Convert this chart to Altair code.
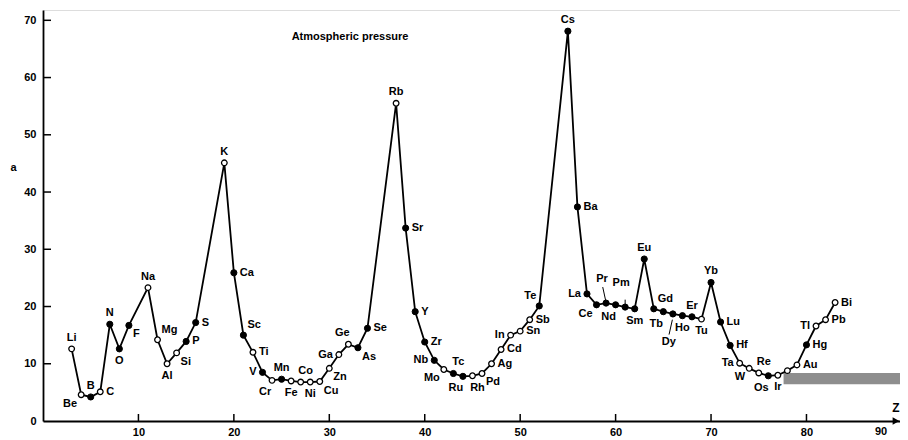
import altair as alt
import pandas as pd

# ---------------- data ----------------
symbols = ["Li", "Be", "B", "C", "N", "O", "F", "Na", "Mg", "Al", "Si", "P", "S",
           "K", "Ca", "Sc", "Ti", "V", "Cr", "Mn", "Fe", "Co", "Ni", "Cu", "Zn",
           "Ga", "Ge", "As", "Se", "Rb", "Sr", "Y", "Zr", "Nb", "Mo", "Tc", "Ru",
           "Rh", "Pd", "Ag", "Cd", "In", "Sn", "Sb", "Te", "Cs", "Ba", "La", "Ce",
           "Pr", "Nd", "Pm", "Sm", "Eu", "Gd", "Tb", "Dy", "Ho", "Er", "Tu", "Yb",
           "Lu", "Hf", "Ta", "W", "Re", "Os", "Ir", "", "Au", "Hg", "Tl", "Pb", "Bi"]
z_numbers = [3, 4, 5, 6, 7, 8, 9, 11, 12, 13, 14, 15, 16,
             19, 20, 21, 22, 23, 24, 25, 26, 27, 28, 29, 30,
             31, 32, 33, 34, 37, 38, 39, 40, 41, 42, 43, 44,
             45, 46, 47, 48, 49, 50, 51, 52, 55, 56, 57, 58,
             59, 60, 61, 62, 63, 64, 65, 66, 67, 68, 69, 70,
             71, 72, 73, 74, 75, 76, 77, 78, 79, 80, 81, 82, 83]
a_values = [12.6, 4.6, 4.2, 5.1, 16.9, 12.6, 16.7, 23.3, 14.2, 10.0, 11.9, 13.9, 17.2,
            45.1, 25.9, 15.0, 12.0, 8.5, 7.1, 7.3, 7.0, 6.8, 6.8, 6.9, 9.2,
            11.6, 13.4, 12.8, 16.2, 55.5, 33.7, 19.1, 13.8, 10.6, 9.0, 8.3, 7.8,
            7.9, 8.3, 10.0, 12.5, 15.0, 15.7, 17.7, 20.1, 68.1, 37.4, 22.2, 20.3,
            20.6, 20.3, 19.9, 19.6, 28.3, 19.6, 19.1, 18.7, 18.4, 18.2, 17.8, 24.2,
            17.3, 13.2, 10.1, 9.2, 8.4, 7.9, 8.0, 8.8, 9.8, 13.3, 16.6, 17.7, 20.7]
open_symbols = ["Li", "Be", "C", "Na", "Mg", "Al", "Si", "K", "Ti", "Cr", "Fe", "Co",
                "Ni", "Cu", "Zn", "Ga", "Ge", "Rb", "Mo", "Rh", "Pd", "Ag", "Cd", "In",
                "Sn", "Sb", "Tu", "Ta", "W", "Re", "Ir", "", "Au", "Tl", "Pb", "Bi"]
# where each element label sits relative to its marker
label_place = {
    "Li": "N", "Be": "SW", "B": "N", "C": "E", "N": "N", "O": "S", "F": "SE",
    "Na": "N", "Mg": "NE", "Al": "S", "Si": "SE", "P": "E", "S": "E", "K": "N",
    "Ca": "E", "Sc": "NE", "Ti": "E", "V": "W", "Cr": "SL", "Mn": "N", "Fe": "S",
    "Co": "NR", "Ni": "S", "Cu": "SE", "Zn": "SE", "Ga": "W", "Ge": "NL", "As": "SE",
    "Se": "E", "Rb": "N", "Sr": "E", "Y": "E", "Zr": "E", "Nb": "W", "Mo": "SW",
    "Tc": "NR", "Ru": "SL", "Rh": "SR", "Pd": "SE", "Ag": "E", "Cd": "E", "In": "W",
    "Sn": "E", "Sb": "E", "Te": "NW", "Cs": "N", "Ba": "E", "La": "W", "Ce": "SW",
    "Pr": "N2", "Nd": "SL", "Pm": "N2", "Sm": "S", "Eu": "N", "Gd": "NE", "Tb": "SL",
    "Dy": "S2", "Ho": "S", "Er": "N", "Tu": "S", "Yb": "N", "Lu": "E", "Hf": "E",
    "Ta": "W", "W": "SW", "Re": "NR", "Os": "SL", "Ir": "S", "": "N", "Au": "E",
    "Hg": "E", "Tl": "W", "Pb": "E", "Bi": "E",
}
x_ticks = [10, 20, 30, 40, 50, 60, 70, 80]
x_last_label = "90"
y_ticks = [0, 10, 20, 30, 40, 50, 60, 70]
leader_syms = ["Pr", "Pm", "Dy"]
scan_band = {"z1": [77.6], "z2": [89.8], "a1": [6.4], "a2": [8.4]}

# ---------------- layout / style ----------------
W, H = 857, 411
FONT = "Liberation Sans"
place_style = {
    "N": (0, -11, "center"), "S": (0, 12, "center"),
    "NL": (-6, -11, "center"), "NR": (5, -11, "center"),
    "SL": (-7, 12, "center"), "SR": (5, 12, "center"),
    "E": (6, 0, "left"), "W": (-6, 0, "right"),
    "NE": (4, -10, "left"), "NW": (-3, -10, "right"),
    "SE": (4, 9, "left"), "SW": (-4, 9, "right"),
    "N2": (-4, -24, "center"), "S2": (-4, 28, "center"),
}

df = pd.DataFrame({"Z": z_numbers, "a": a_values, "sym": symbols})
df["kind"] = ["open" if s in open_symbols else "filled" for s in symbols]
df["place"] = [label_place[s] for s in symbols]

xs = alt.Scale(domain=[0, 89.8], nice=False, zero=False)
ys = alt.Scale(domain=[0, 71.8], nice=False, zero=False)
x_axis = alt.Axis(values=x_ticks, title=None, ticks=False, grid=False,
                  domainColor="black", domainWidth=1.8, labelColor="black",
                  labelFont=FONT, labelFontWeight="bold", labelFontSize=11,
                  labelPadding=5, labelFlush=False, labelOverlap=False)
y_axis = alt.Axis(values=y_ticks, title="a", titleAngle=0, titleX=-30, titleY=157,
                  titleAlign="center", titleBaseline="middle",
                  titleFont=FONT, titleFontWeight="bold", titleFontSize=11,
                  titleColor="black", ticks=False, grid=False,
                  domainColor="black", domainWidth=1.8, labelColor="black",
                  labelFont=FONT, labelFontWeight="bold", labelFontSize=11,
                  labelPadding=7, labelFlush=False, labelOverlap=False)


def X(field):
    return alt.X(field, type="quantitative", scale=xs, axis=x_axis)


def Y(field):
    return alt.Y(field, type="quantitative", scale=ys, axis=y_axis)


base = alt.Chart(df)

band = alt.Chart(pd.DataFrame(scan_band)).mark_rect(color="#8e8e8e").encode(
    x=X("z1"), x2="z2", y=Y("a1"), y2="a2")

xt = alt.Chart(pd.DataFrame({"t": x_ticks})).mark_rule(
    color="black", strokeWidth=1.5).encode(
    x=X("t"), y=alt.value(H), y2=alt.value(H - 7))
yt = alt.Chart(pd.DataFrame({"v": y_ticks[1:]})).mark_rule(
    color="black", strokeWidth=1.5).encode(
    y=Y("v"), x=alt.value(0), x2=alt.value(8))

line = base.mark_line(color="black", strokeWidth=1.8).encode(
    x=X("Z"), y=Y("a"), order="Z:Q")

# short leader lines from far-placed labels to their markers
lead_rows = []
for s in leader_syms:
    r = df[df.sym == s].iloc[0]
    if s == "Dy":
        lead_rows.append({"z1": r.Z - 0.05, "a1": r.a - 1.0, "z2": r.Z - 0.4, "a2": r.a - 3.6})
    elif s == "Pr":
        lead_rows.append({"z1": r.Z - 0.05, "a1": r.a + 0.5, "z2": r.Z - 0.35, "a2": r.a + 2.8})
    else:
        lead_rows.append({"z1": r.Z, "a1": r.a + 0.3, "z2": r.Z, "a2": r.a + 1.3})
leaders = alt.Chart(pd.DataFrame(lead_rows)).mark_rule(
    color="black", strokeWidth=1).encode(
    x=X("z1"), y=Y("a1"), x2="z2", y2="a2")

pts_open = base.transform_filter(alt.datum.kind == "open").mark_point(
    shape="circle", size=32, filled=True, fill="white", stroke="black",
    strokeWidth=1.3, opacity=1).encode(x=X("Z"), y=Y("a"))
pts_fill = base.transform_filter(alt.datum.kind == "filled").mark_point(
    shape="circle", size=38, filled=True, fill="black", stroke="black",
    strokeWidth=1, opacity=1).encode(x=X("Z"), y=Y("a"))

labels = []
for code, (dx, dy, al) in place_style.items():
    labels.append(
        base.transform_filter(alt.datum.place == code).mark_text(
            dx=dx, dy=dy, align=al, baseline="middle", font=FONT,
            fontWeight="bold", fontSize=11, color="black").encode(
            x=X("Z"), y=Y("a"), text="sym:N"))

title = alt.Chart(pd.DataFrame({"t": ["Atmospheric pressure"]})).mark_text(
    font=FONT, fontWeight="bold", fontSize=11, color="black", align="center",
    baseline="middle").encode(x=alt.value(307), y=alt.value(27), text="t:N")
last_lab = alt.Chart(pd.DataFrame({"t": [x_last_label]})).mark_text(
    font=FONT, fontWeight="bold", fontSize=11, color="black", align="center",
    baseline="top").encode(x=alt.value(838), y=alt.value(H + 5), text="t:N")
zlab = alt.Chart(pd.DataFrame({"t": ["Z"]})).mark_text(
    font=FONT, fontWeight="bold", fontSize=12, color="black", align="center",
    baseline="middle").encode(x=alt.value(W - 4), y=alt.value(H - 13), text="t:N")
arrow = alt.Chart(pd.DataFrame({"t": [1]})).mark_point(
    shape="triangle-right", filled=True, color="black", size=60, opacity=1).encode(
    x=alt.value(W - 4), y=alt.value(H))

chart = alt.layer(band, xt, yt, line, leaders, pts_open, pts_fill, *labels,
                  title, last_lab, zlab, arrow).properties(
    width=W, height=H,
    autosize=alt.AutoSizeParams(type="none"),
    padding={"left": 35, "top": 2, "right": 0, "bottom": 18},
).configure_view(stroke=None).configure(background="white")

chart.save("out.html", embed_options={"renderer": "svg", "actions": False})
